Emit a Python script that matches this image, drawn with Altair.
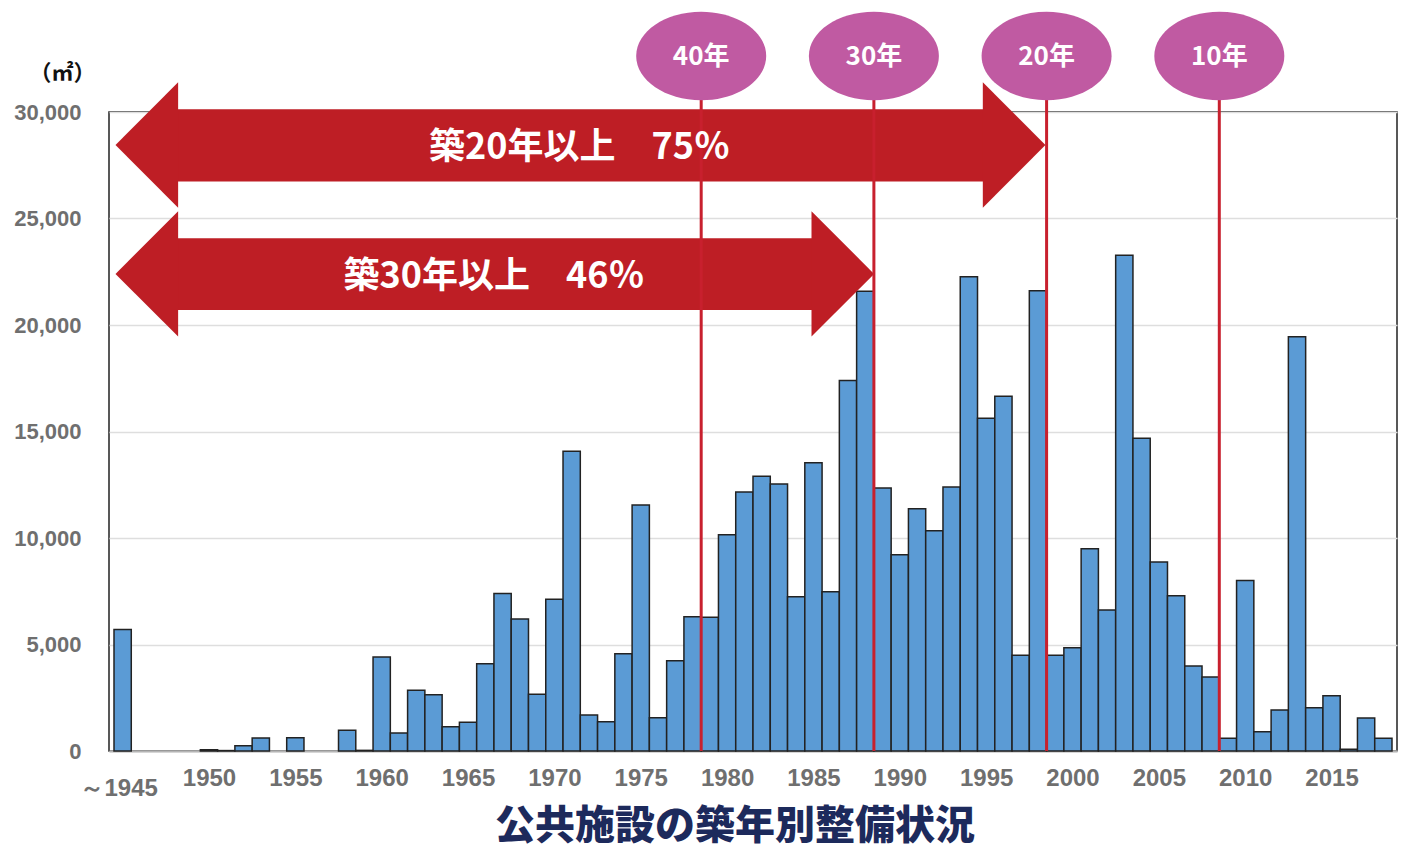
import altair as alt
import pandas as pd

# ---------------- data ----------------
years = list(range(1945, 2019))
areas = [5700, 0, 0, 0, 0, 60, 20, 250, 610, 0,
         625, 0, 0, 970, 30, 4410, 845, 2850, 2645, 1140,
         1345, 4100, 7400, 6200, 2660, 7120, 14070, 1690, 1375, 4570,
         11550, 1565, 4240, 6305, 6275, 10155, 12160, 12895, 12535, 7245,
         13535, 7480, 17400, 21580, 12350, 9215, 11375, 10345, 12395, 22270,
         15620, 16650, 4490, 21610, 4490, 4850, 9500, 6620, 23270, 14680,
         8870, 7290, 3990, 3475, 595, 8000, 905, 1925, 19450, 2030,
         2595, 80, 1550, 595]

y_ticks = [0, 5000, 10000, 15000, 20000, 25000, 30000]
x_ticks = [1945, 1950, 1955, 1960, 1965, 1970, 1975, 1980, 1985, 1990,
           1995, 2000, 2005, 2010, 2015]

# age markers (boundary between build years)
marker_labels = ["40年", "30年", "20年", "10年"]
marker_x = [1978.5, 1988.5, 1998.5, 2008.5]
marker_y = [32630, 32630, 32630, 32630]

# arrow shafts (x in years, y in m²)
shaft_x0 = [1948.2, 1948.2]
shaft_x1 = [1994.9, 1985.0]
shaft_top = [30130, 24070]
shaft_bot = [26740, 20700]

# arrow heads (centre of each head)
head_x = [1946.4, 1996.62, 1946.4, 1986.7]
head_y = [28450, 28450, 22400, 22400]
head_dir = ["L", "R", "L", "R"]

arrow_text = ["築20年以上　75％", "築30年以上　46％"]
arrow_text_x = [1971.45, 1966.5]
arrow_text_y = [28300, 22250]

# ---------------- tables ----------------
bars = pd.DataFrame({"year": years, "area": areas})
markers = pd.DataFrame({"label": marker_labels, "x": marker_x, "y": marker_y})
shafts = pd.DataFrame({"x0": shaft_x0, "x1": shaft_x1, "t": shaft_top, "b": shaft_bot})
heads = pd.DataFrame({"x": head_x, "y": head_y, "dir": head_dir})
atext = pd.DataFrame({"t": arrow_text, "x": arrow_text_x, "y": arrow_text_y})

xs = alt.Scale(domain=[1944.5, 2018.5], nice=False, zero=False)
ys = alt.Scale(domain=[0, 30000], nice=False)

NARROW = "Liberation Sans Narrow, Liberation Sans, sans-serif"
RED = "#be1e25"

bar_layer = alt.Chart(bars).transform_filter("datum.area > 0").transform_calculate(
    x0="datum.year - 0.5", x1="datum.year + 0.5"
).mark_bar(color="#5b9bd5", stroke="#222222", strokeWidth=1.5, orient="vertical").encode(
    x=alt.X("x0:Q", scale=xs, axis=alt.Axis(
        values=x_ticks, title=None, grid=False, ticks=False,
        labelExpr="datum.value == 1945 ? '～1945' : format(datum.value, 'd')",
        labelFont=NARROW, labelFontSize=24, labelFontWeight="bold",
        labelColor="#6f6f6f",
        labelPadding={"condition": {"test": "datum.value == 1945", "value": 25}, "value": 15},
        labelOffset={"condition": {"test": "datum.value == 1945", "value": -4}, "value": 0},
        domainColor="#b5b5b5", domainWidth=2, labelFlush=False, labelOverlap=False)),
    x2="x1:Q",
    y=alt.Y("area:Q", scale=ys, stack=None, axis=alt.Axis(
        values=y_ticks, labelExpr="format(datum.value, ',d')",
        ticks=False, domain=False,
        gridColor="#dedede", gridWidth=1.5,
        labelFont="Liberation Sans", labelFontSize=22, labelFontWeight="bold",
        labelColor="#6f6f6f", labelPadding=28,
        title="（㎡）", titleAngle=0, titleX=-47, titleY=-40,
        titleAlign="center", titleBaseline="middle",
        titleFont="Noto Sans CJK JP", titleFontSize=22, titleFontWeight="bold",
        titleColor="#111111")),
    y2=alt.datum(0),
)

shaft_layer = alt.Chart(shafts).mark_rect(color=RED, opacity=1).encode(
    x=alt.X("x0:Q", scale=xs),
    x2="x1:Q",
    y=alt.Y("t:Q", scale=ys),
    y2="b:Q",
)

path_left = "M -0.5 0 L 0.5 -1 L 0.5 1 Z"
path_right = "M 0.5 0 L -0.5 -1 L -0.5 1 Z"
head_layer = alt.Chart(heads).mark_point(filled=True, opacity=1, color=RED, size=15700).encode(
    x=alt.X("x:Q", scale=xs),
    y=alt.Y("y:Q", scale=ys),
    shape=alt.Shape("dir:N", scale=alt.Scale(domain=["L", "R"], range=[path_left, path_right]),
                    legend=None),
)

rule_layer = alt.Chart(markers).mark_rule(color="#c8202e", strokeWidth=3).encode(
    x=alt.X("x:Q", scale=xs),
    y=alt.Y("y:Q", scale=ys),
    y2=alt.datum(0),
)

ellipse = "M -1 0 A 1 0.68 0 1 1 1 0 A 1 0.68 0 1 1 -1 0 Z"
ell_layer = alt.Chart(markers).mark_point(
    shape=ellipse, size=16900, filled=True, color="#c05aa2", opacity=1
).encode(
    x=alt.X("x:Q", scale=xs),
    y=alt.Y("y:Q", scale=ys),
)

ell_text = alt.Chart(markers).mark_text(
    color="white", font="Liberation Sans Narrow, Noto Sans CJK JP", fontSize=26,
    fontWeight="bold", baseline="middle", align="center", dy=1
).encode(
    x=alt.X("x:Q", scale=xs),
    y=alt.Y("y:Q", scale=ys),
    text="label:N",
)

arrow_txt = alt.Chart(atext).mark_text(
    color="white", font="Noto Sans CJK JP", fontSize=36, fontWeight="bold",
    baseline="middle", align="center"
).encode(
    x=alt.X("x:Q", scale=xs),
    y=alt.Y("y:Q", scale=ys),
    text="t:N",
)

chart = alt.layer(
    bar_layer, shaft_layer, head_layer, rule_layer, ell_layer, ell_text, arrow_txt
).properties(
    width=1288, height=639,
    padding={"left": 101, "top": 104, "right": 2, "bottom": 100},
    autosize=alt.AutoSizeParams(type="none"),
    title=alt.TitleParams(
        text="公共施設の築年別整備状況", orient="bottom", anchor="middle",
        frame="group", dx=-18, offset=7,
        font="Noto Sans CJK JP", fontSize=40, fontWeight=900, color="#1d2a5c"),
).configure_view(stroke="#222222", strokeWidth=1.5)

chart.save("out.html", embed_options={"renderer": "svg", "actions": False})
